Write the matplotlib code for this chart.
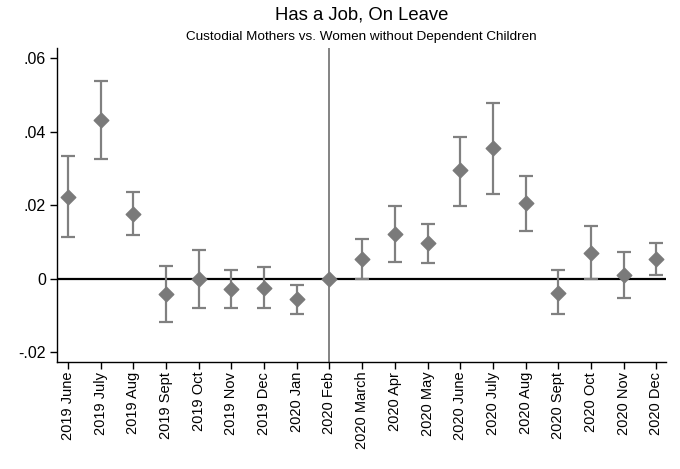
import matplotlib.pyplot as plt

# month labels along the x axis
months = ["2019 June", "2019 July", "2019 Aug", "2019 Sept", "2019 Oct",
          "2019 Nov", "2019 Dec", "2020 Jan", "2020 Feb", "2020 March",
          "2020 Apr", "2020 May", "2020 June", "2020 July", "2020 Aug",
          "2020 Sept", "2020 Oct", "2020 Nov", "2020 Dec"]

# point estimates and confidence bounds
coef = [0.0224, 0.0433, 0.0177, -0.0042, 0.0, -0.0028, -0.0024, -0.0055, 0.0,
        0.0054, 0.0122, 0.0097, 0.0295, 0.0355, 0.0206, -0.0038, 0.0069,
        0.0010, 0.0054]
upper = [0.0333, 0.0540, 0.0235, 0.0035, 0.0078, 0.0024, 0.0033, -0.0017, 0.0,
         0.0108, 0.0199, 0.0150, 0.0387, 0.0480, 0.0279, 0.0023, 0.0143,
         0.0073, 0.0097]
lower = [0.0115, 0.0326, 0.0118, -0.0117, -0.0081, -0.0081, -0.0080, -0.0097, 0.0,
         -0.0002, 0.0045, 0.0043, 0.0199, 0.0230, 0.0131, -0.0097, -0.0002,
         -0.0053, 0.0010]

yticks = [-0.02, 0, 0.02, 0.04, 0.06]
ytick_labels = ["-.02", "0", ".02", ".04", ".06"]

plt.rcParams['font.family'] = ['Liberation Sans', 'DejaVu Sans']

fig = plt.figure(figsize=(6.8, 4.69), dpi=100)
ax = fig.add_axes([0.0838, 0.228, 0.8952, 0.67])

x = list(range(len(months)))
ref = months.index("2020 Feb")

ax.axvline(ref, color="#7a7a7a", lw=1.3, zorder=1)
ax.axhline(0, color="black", lw=1.6, zorder=1)

# error bars (skip the reference month which has no interval)
for i in x:
    if i == ref:
        continue
    ax.errorbar(i, coef[i], yerr=[[coef[i] - lower[i]], [upper[i] - coef[i]]],
                fmt="none", ecolor="#808080", elinewidth=1.6, capsize=5,
                capthick=1.6, zorder=2)
ax.scatter(x, coef, marker="D", s=55, color="#7a7a7a", zorder=3)

ax.set_xlim(-0.34, 18.29)
ax.set_ylim(-0.0227, 0.0629)
ax.set_xticks(x)
ax.set_xticklabels(months, rotation=90, fontsize=10.5)
ax.set_yticks(yticks)
ax.set_yticklabels(ytick_labels, fontsize=11.5)

for side in ["top", "right"]:
    ax.spines[side].set_visible(False)
ax.spines["left"].set_linewidth(1.0)
ax.spines["bottom"].set_linewidth(1.0)
ax.tick_params(direction="out", length=5, width=1.0, color="black")
ax.tick_params(axis="x", pad=2)
ax.tick_params(axis="y", pad=3)

cx = 0.0838 + 0.8952 / 2
fig.text(cx, 0.968, "Has a Job, On Leave", ha="center", va="center",
         fontsize=13.3)
fig.text(cx, 0.921, "Custodial Mothers vs. Women without Dependent Children",
         ha="center", va="center", fontsize=9.7)

fig.savefig("out.png", dpi=100)
